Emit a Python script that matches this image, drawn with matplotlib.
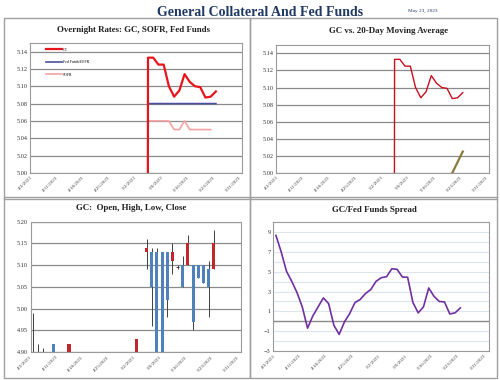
import numpy as np
import pandas as pd
import matplotlib
matplotlib.use('Agg')
import matplotlib.pyplot as plt
from matplotlib.patches import Rectangle
from matplotlib.ticker import FormatStrFormatter

plt.rcParams['font.family'] = ['Liberation Serif', 'DejaVu Serif']

# business-day axis (Good Friday and Memorial Day skipped)
holidays = ['2023-04-07', '2023-05-29']
days = pd.bdate_range('2023-04-03', '2023-05-31')
days = days[~days.isin(pd.to_datetime(holidays))]
tick_labels = ['%d/%d/%d' % (d.month, d.day, d.year) for d in days[::5]]

# overnight rates
gc_dates = ['2023-05-03', '2023-05-04', '2023-05-05', '2023-05-08', '2023-05-09', '2023-05-10',
            '2023-05-11', '2023-05-12', '2023-05-15', '2023-05-16', '2023-05-17', '2023-05-18',
            '2023-05-19', '2023-05-22', '2023-05-23']
gc_vals = [0, 5.133, 5.133, 5.125, 5.125, 5.100, 5.088, 5.095, 5.114, 5.105, 5.100, 5.099,
           5.087, 5.088, 5.094]
effr_vals = [0, 5.08, 5.08, 5.08, 5.08, 5.08, 5.08, 5.08, 5.08, 5.08, 5.08, 5.08, 5.08, 5.08, 5.08]
sofr_dates = gc_dates[:-1]
sofr_vals = [0, 5.06, 5.06, 5.06, 5.06, 5.06, 5.05, 5.05, 5.06, 5.05, 5.05, 5.05, 5.05, 5.05]

# 20 day moving average
ma_dates = ['2023-05-19', '2023-05-22', '2023-05-23']
ma_vals = [5.000, 5.0125, 5.025]

# GC open / high / low / close
ohlc_dates = ['2023-04-03', '2023-04-04', '2023-04-05', '2023-04-10', '2023-04-13', '2023-05-02',
              '2023-05-04', '2023-05-05', '2023-05-08', '2023-05-09', '2023-05-10', '2023-05-11',
              '2023-05-12', '2023-05-15', '2023-05-16', '2023-05-17', '2023-05-18', '2023-05-19',
              '2023-05-22', '2023-05-23']
o_vals = [4.90, 4.90, 4.90, 4.90, 4.92, 4.93, 5.14, 5.05, 4.85, 4.85, 5.02, 5.13, 5.095, 5.05,
          5.15, 4.97, 5.07, 5.06, 5.05, 5.15]
h_vals = [4.99, 4.92, 4.91, 4.92, 4.92, 4.93, 5.16, 5.14, 5.14, 5.13, 5.13, 5.15, 5.10, 5.12,
          5.17, 5.10, 5.10, 5.10, 5.11, 5.18]
l_vals = [4.88, 4.88, 4.88, 4.88, 4.88, 4.88, 5.09, 4.96, 4.85, 4.85, 4.98, 5.08, 5.09, 5.05,
          5.10, 4.95, 5.07, 5.06, 4.98, 5.09]
c_vals = [4.90, 4.90, 4.90, 4.92, 4.90, 4.90, 5.13, 5.13, 5.13, 5.13, 5.13, 5.11, 5.095, 5.10,
          5.10, 5.10, 5.10, 5.10, 5.09, 5.09]

# GC - fed funds spread (bp), 4/3 .. 5/23
spread_vals = [8.66, 7.0, 5.05, 4.03, 2.9, 1.45, -0.7, 0.54, 1.45, 2.36, 1.78, -0.4, -1.33,
               -0.07, 0.78, 1.89, 2.2, 2.8, 3.2, 4.03, 4.4, 4.5, 5.3, 5.24, 4.47, 4.44, 1.9,
               0.85, 1.45, 3.36, 2.52, 2.0, 1.95, 0.74, 0.85, 1.35]


def pos(dates):
    return [days.get_loc(pd.Timestamp(d)) for d in dates]


def style(ax, grid_col='#8a8a8a', grid_lw=0.9):
    ax.set_xlim(-0.6, 40)
    ax.set_xticks(range(0, 41, 5))
    ax.set_xticklabels(tick_labels, rotation=45, ha='right', fontsize=3.6, color='#444')
    ax.tick_params(length=0, pad=2)
    ax.tick_params(axis='y', labelsize=4.5, colors='#333')
    ax.grid(axis='y', color=grid_col, lw=grid_lw)
    ax.set_axisbelow(True)
    for s in ax.spines.values():
        s.set_color('#9a9a9a')
        s.set_linewidth(0.8)


fig = plt.figure(figsize=(5, 3.8), dpi=100)

# panel frames
for x0, y0, w, h in [(4, 18, 246, 181), (250, 18, 247, 181), (4, 197, 246, 181), (250, 197, 247, 181)]:
    fig.add_artist(Rectangle((x0 / 500, 1 - (y0 + h) / 380), w / 500, h / 380,
                             transform=fig.transFigure, fill=False, ec='#a0a0a0', lw=1))

fig.text(0.52, 0.968, 'General Collateral And Fed Funds', ha='center', va='center',
         fontsize=10, fontweight='bold', color='#1f3864')
fig.text(0.846, 0.97, 'May 23, 2023', ha='center', va='center', fontsize=3.8, color='#1f3864')

# top left
ax1 = fig.add_axes([0.06, 0.545, 0.424, 0.342])
ax1.plot(pos(sofr_dates), sofr_vals, color='#f4a3a3', lw=1.2, label='SOFR', zorder=3)
ax1.plot(pos(gc_dates), effr_vals, color='#4b4f9c', lw=1.2, label='Fed Funds/EFFR', zorder=4)
ax1.plot(pos(gc_dates), gc_vals, color='#e8141c', lw=1.6, label='GC', zorder=5)
ax1.set_ylim(5.00, 5.15)
ax1.set_yticks(np.arange(5.00, 5.141, 0.02))
ax1.yaxis.set_major_formatter(FormatStrFormatter('%.2f'))
style(ax1)
hs, ls = ax1.get_legend_handles_labels()
ax1.legend(hs[::-1], ls[::-1], loc='upper left', bbox_to_anchor=(0.06, 0.99), frameon=False,
           fontsize=2.8, handlelength=4, labelspacing=2.2, handletextpad=0.3)
fig.text(0.267, 0.92, 'Overnight Rates: GC, SOFR, Fed Funds', ha='center', va='center',
         fontsize=6.4, fontweight='bold', color='#222')

# top right
ax2 = fig.add_axes([0.552, 0.545, 0.426, 0.337])
ax2.plot(pos(gc_dates), gc_vals, color='#c8101e', lw=1.0)
ax2.plot(pos(ma_dates), ma_vals, color='#8c7a3c', lw=1.6)
ax2.set_ylim(5.00, 5.15)
ax2.set_yticks(np.arange(5.00, 5.141, 0.02))
ax2.yaxis.set_major_formatter(FormatStrFormatter('%.2f'))
style(ax2)
fig.text(0.778, 0.918, 'GC vs. 20-Day Moving Average', ha='center', va='center',
         fontsize=6.4, fontweight='bold', color='#222')

# bottom left
ax3 = fig.add_axes([0.0614, 0.073, 0.42, 0.344])
xo = pos(ohlc_dates)
o = np.array(o_vals)
c = np.array(c_vals)
cols = ['#4f81bd' if cc > oo else '#c0282d' for oo, cc in zip(o, c)]
ax3.vlines(xo, l_vals, h_vals, color='#404040', lw=0.7, zorder=2)
ax3.bar(xo, c - o, bottom=o, width=0.6, color=cols, zorder=3)
for x, oo, cc in zip(xo, o, c):
    if oo == cc:
        ax3.hlines(oo, x - 0.3, x + 0.3, color='#404040', lw=0.7, zorder=3)
ax3.set_ylim(4.90, 5.20)
ax3.set_yticks(np.arange(4.90, 5.201, 0.05))
ax3.yaxis.set_major_formatter(FormatStrFormatter('%.2f'))
style(ax3)
ax3.set_xlim(-0.4, 40.2)
fig.text(0.262, 0.453, 'GC:  Open, High, Low, Close', ha='center', va='center',
         fontsize=6.4, fontweight='bold', color='#222')

# bottom right
ax4 = fig.add_axes([0.5466, 0.0763, 0.432, 0.339])
ax4.plot(range(len(spread_vals)), spread_vals, color='#7030a0', lw=1.2, zorder=3)
ax4.set_ylim(-3, 10)
ax4.set_yticks(range(-3, 10, 2))
ax4.set_yticks(range(-3, 10), minor=True)
style(ax4, grid_col='#dde6ef', grid_lw=0.8)
ax4.grid(axis='y', which='minor', color='#dde6ef', lw=0.8)
ax4.tick_params(which='minor', length=0)
ax4.axhline(0, color='#8a8a8a', lw=1.0, zorder=2)
ax4.set_xlim(-0.5, 40.5)
fig.text(0.748, 0.448, 'GC/Fed Funds Spread', ha='center', va='center',
         fontsize=6.4, fontweight='bold', color='#222')

fig.savefig('out.png', dpi=100)
